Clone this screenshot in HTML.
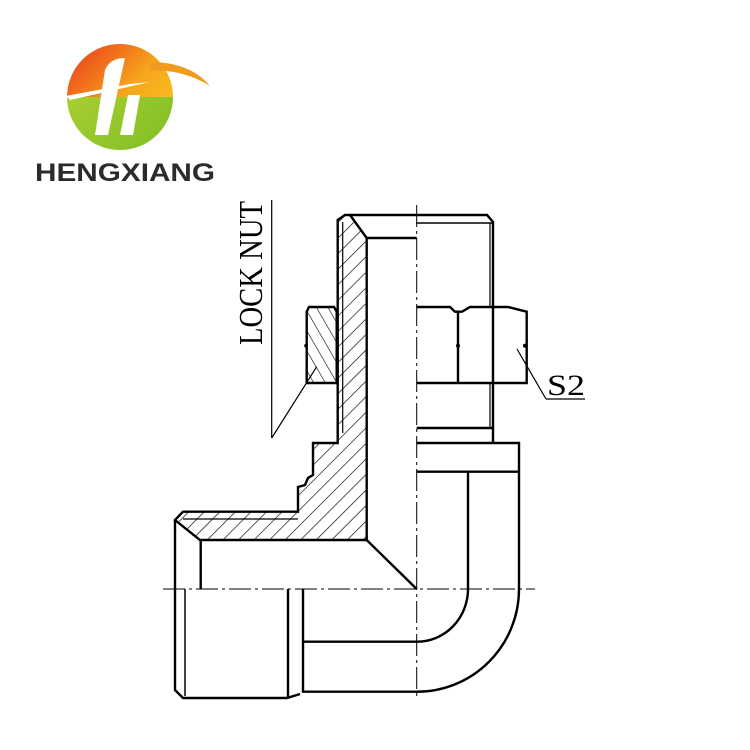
<!DOCTYPE html>
<html><head><meta charset="utf-8"><style>html,body{margin:0;padding:0;background:#fff}svg{display:block}</style></head>
<body>
<svg width="750" height="750" viewBox="0 0 750 750" xmlns="http://www.w3.org/2000/svg">
<defs>
<linearGradient id="g1" x1="0" y1="0" x2="1" y2="1">
<stop offset="0" stop-color="#e8331c"/><stop offset="0.5" stop-color="#f7a51c"/><stop offset="1" stop-color="#f5d020"/></linearGradient>
<linearGradient id="g2" x1="0" y1="0" x2="1" y2="1">
<stop offset="0" stop-color="#b5d334"/><stop offset="1" stop-color="#7fbf26"/></linearGradient>
<pattern id="h" patternUnits="userSpaceOnUse" width="11" height="11" patternTransform="rotate(45)">
<rect width="11" height="11" fill="#fff"/><line x1="0" y1="0" x2="0" y2="11" stroke="#000" stroke-width="1.3"/></pattern>
<pattern id="h2" patternUnits="userSpaceOnUse" width="10" height="10" patternTransform="rotate(-30)">
<rect width="10" height="10" fill="#fff"/><line x1="0" y1="0" x2="0" y2="10" stroke="#000" stroke-width="1.2"/></pattern>
<clipPath id="top"><rect x="0" y="0" width="750" height="97"/></clipPath>
<clipPath id="bot"><rect x="0" y="97" width="750" height="100"/></clipPath>
</defs>
<!-- logo -->
<circle cx="120" cy="97" r="53" fill="url(#g1)" clip-path="url(#top)"/>
<circle cx="120" cy="97" r="53" fill="url(#g2)" clip-path="url(#bot)"/>
<path d="M150 62 Q190 62 210 86 Q185 70 150 70 Z" fill="#f29a1e"/>
<path d="M66 96 L130 84 L150 82 L70 100 Z" fill="#fff"/>
<path d="M105 70 Q110 58 125 58 L108 135 L95 135 Z" fill="#fff"/>
<path d="M128 95 L140 95 L133 135 L120 135 Z" fill="#fff"/>
<text x="125" y="181" text-anchor="middle" font-family="Liberation Sans, sans-serif" font-weight="bold" font-size="25" fill="#2b2b2b" textLength="180" lengthAdjust="spacingAndGlyphs">HENGXIANG</text>

<g fill="none" stroke="#000" stroke-width="2.4" stroke-linejoin="miter">
<!-- hatched body -->
<path d="M337.7 220 L345 215 L350 215 L366.7 238 L366.7 540 L200 540 L175 520 L183 511.7 L298 511.7 L298 487 L305 485 L308 478 L313 475 L313 443 L337.7 443 Z" fill="url(#h)"/>
<line x1="342.7" y1="222" x2="342.7" y2="433" stroke-width="1.2"/>
<line x1="183" y1="519" x2="298" y2="519" stroke-width="1.2"/>
<!-- lock nut -->
<path d="M306.7 311.7 L309 307 L334 307 L336.7 311.7 L336.7 383 L306.7 383 Z" fill="url(#h2)"/>
<!-- upper pipe -->
<path d="M350 215 L487 215 L493 222 L493 443"/>
<line x1="416" y1="223" x2="493" y2="223" stroke-width="1.5"/>
<line x1="490" y1="223" x2="490" y2="307" stroke-width="1.2"/>
<line x1="490" y1="383" x2="490" y2="428" stroke-width="1.2"/>
<line x1="366.7" y1="238" x2="416.7" y2="238"/>
<!-- hex nut -->
<path d="M416.7 307 L450 307 L455 311.7 L462 311.7 L470 307 L508 307 L526.7 311.7 L526.7 383 L416.7 383"/>
<line x1="458" y1="311.7" x2="458" y2="383"/>
<line x1="416.7" y1="428" x2="493" y2="428"/>
<path d="M416.7 443 L519 443 L519 589 A102 102.7 0 0 1 416.7 691.7 L303 691.7 L303 589"/>
<line x1="416.7" y1="471.7" x2="519" y2="471.7"/>
<path d="M468 471.7 L468 589 A51 52.7 0 0 1 416.7 641.7 L303 641.7"/>
<!-- left male -->
<line x1="366.7" y1="540" x2="416.7" y2="589"/>
<line x1="200.7" y1="540" x2="200.7" y2="589"/>
<path d="M175 520 L175 690 L183 698 L287 698 L300 694"/>
<line x1="185" y1="589" x2="185" y2="696" stroke-width="1.5"/>
<line x1="288" y1="589" x2="288" y2="698"/>
</g>
<g fill="#000"><circle cx="306" cy="345.7" r="1.8"/><circle cx="458" cy="345.7" r="2"/><circle cx="525" cy="345.7" r="2"/></g>
<!-- centerlines -->
<g stroke="#000" stroke-width="1" stroke-dasharray="22 4 3 4">
<line x1="416.7" y1="205" x2="416.7" y2="700"/>
<line x1="163" y1="589" x2="535" y2="589"/>
</g>
<!-- annotations -->
<g stroke="#000" stroke-width="1.2">
<line x1="271.7" y1="200" x2="271.7" y2="438"/>
<line x1="316.7" y1="366.7" x2="271.7" y2="438"/>
<line x1="517" y1="349" x2="546" y2="399"/>
<line x1="546" y1="399" x2="585" y2="399"/>
</g>
<text transform="translate(262,345) rotate(-90)" font-family="Liberation Serif, serif" font-size="34" textLength="144" lengthAdjust="spacingAndGlyphs">LOCK NUT</text>
<text x="547" y="395" font-family="Liberation Serif, serif" font-size="30" textLength="38" lengthAdjust="spacingAndGlyphs">S2</text>
</svg>
</body></html>
